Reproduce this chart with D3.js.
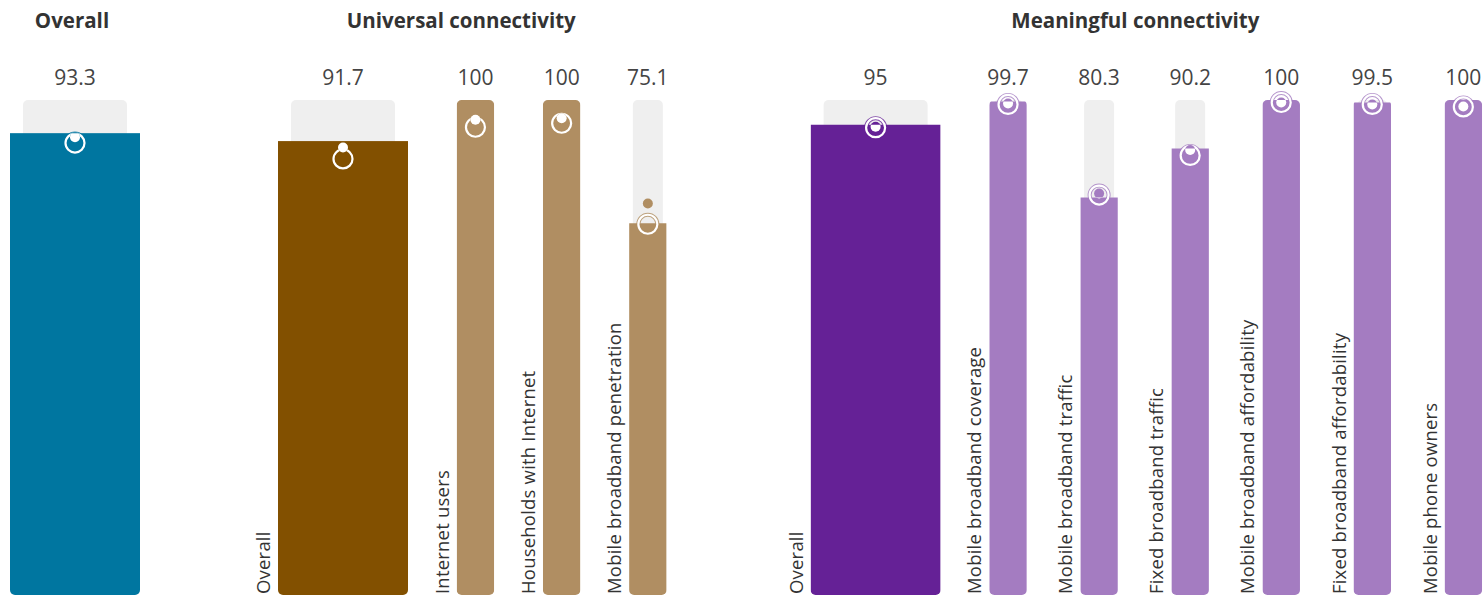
<!DOCTYPE html>
<html>
<head>
<meta charset="utf-8">
<script src="https://cdn.jsdelivr.net/npm/d3@7"></script>
<style>
  body { margin: 0; background: #fff; }
  text { font-family: 'Open Sans', 'Lato', sans-serif; }
</style>
</head>
<body>
<div id="chart"></div>
<script>
const width = 1483;
const height = 596;

// Overall index
const overallLabels = ['Overall'];
const overallValues = [93.3];
const overallDots = [92.5];
const overallRings = [91.3];

// Universal connectivity
const universalLabels = ['Overall', 'Internet users', 'Households with Internet', 'Mobile broadband penetration'];
const universalValues = [91.7, 100, 100, 75.1];
const universalDots = [90.4, 96.0, 96.3, 79.1];
const universalRings = [88.1, 94.5, 95.3, 74.9];

// Meaningful connectivity
const meaningfulLabels = ['Overall', 'Mobile broadband coverage', 'Mobile broadband traffic', 'Fixed broadband traffic',
  'Mobile broadband affordability', 'Fixed broadband affordability', 'Mobile phone owners'];
const meaningfulValues = [95, 99.7, 80.3, 90.2, 100, 99.5, 100];
const meaningfulDots = [94.6, 99.3, 81.1, 89.9, 99.5, 99.1, 98.7];
const meaningfulRings = [94.4, 99.1, 80.8, 88.8, 99.5, 99.1, 98.6];

const groups = [
  { title: 'Overall', labels: overallLabels, values: overallValues, dots: overallDots, rings: overallRings,
    colors: ['#0076a0'], left: 10, step: 0, showLabels: false },
  { title: 'Universal connectivity', labels: universalLabels, values: universalValues, dots: universalDots, rings: universalRings,
    colors: ['#825000', '#b08e62'], left: 278, step: 86.2, showLabels: true },
  { title: 'Meaningful connectivity', labels: meaningfulLabels, values: meaningfulValues, dots: meaningfulDots, rings: meaningfulRings,
    colors: ['#652196', '#a47cc1'], left: 810.6, step: 91.06, showLabels: true }
];

const wideW = 130, thinW = 37.5, gapAfterWide = 48.7;

const y = d3.scaleLinear().domain([0, 100]).range([595, 100]);

const svg = d3.select('#chart')
  .append('svg')
  .attr('width', width)
  .attr('height', height);

const defs = svg.append('defs');

groups.forEach((g, gi) => {
  const n = g.values.length;
  // position of thin bars
  const xThin = d3.scaleLinear()
    .domain([1, Math.max(2, n - 1)])
    .range([g.left + wideW + gapAfterWide, g.left + wideW + gapAfterWide + (Math.max(2, n - 1) - 1) * g.step]);

  const bars = g.values.map((v, i) => ({
    label: g.labels[i],
    value: v,
    dot: g.dots[i],
    ring: g.rings[i],
    x: i === 0 ? g.left : xThin(i),
    w: i === 0 ? wideW : thinW,
    color: i === 0 ? g.colors[0] : g.colors[1],
    id: `b${gi}-${i}`
  }));

  const layer = svg.append('g');

  // clip paths: rounded column shape, and the filled bar itself
  bars.forEach(d => {
    defs.append('clipPath').attr('id', `col-${d.id}`)
      .append('rect')
      .attr('x', d.x).attr('y', y(100))
      .attr('width', d.w).attr('height', y(0) - y(100))
      .attr('rx', 5);
    defs.append('clipPath').attr('id', `bar-${d.id}`)
      .append('rect')
      .attr('x', d.x).attr('y', y(d.value))
      .attr('width', d.w).attr('height', y(0) - y(d.value));
  });

  const bar = layer.selectAll('g.bar')
    .data(bars)
    .join('g')
    .attr('class', 'bar');

  // grey track
  bar.append('rect')
    .attr('x', d => d.x + d.w * 0.1)
    .attr('y', y(100))
    .attr('width', d => d.w * 0.8)
    .attr('height', y(0) - y(100))
    .attr('rx', 5)
    .attr('fill', '#efefef');

  // value bar
  bar.append('rect')
    .attr('clip-path', d => `url(#col-${d.id})`)
    .attr('x', d => d.x)
    .attr('y', d => y(d.value))
    .attr('width', d => d.w)
    .attr('height', d => y(0) - y(d.value))
    .attr('fill', d => d.color);

  // ring marker
  bar.append('circle')
    .attr('cx', d => d.x + d.w / 2)
    .attr('cy', d => y(d.ring))
    .attr('r', 9.5)
    .attr('fill', 'none')
    .attr('stroke', d => d.color)
    .attr('stroke-width', 4)
    .attr('stroke-opacity', 0.8);
  bar.append('circle')
    .attr('cx', d => d.x + d.w / 2)
    .attr('cy', d => y(d.ring))
    .attr('r', 9.5)
    .attr('fill', 'none')
    .attr('stroke', '#fff')
    .attr('stroke-width', 2.2);

  // dot marker: bar colour outside the bar, white inside it
  bar.append('circle')
    .attr('cx', d => d.x + d.w / 2)
    .attr('cy', d => y(d.dot))
    .attr('r', 5)
    .attr('fill', d => d.color);
  bar.append('circle')
    .attr('clip-path', d => `url(#bar-${d.id})`)
    .attr('cx', d => d.x + d.w / 2)
    .attr('cy', d => y(d.dot))
    .attr('r', 5)
    .attr('fill', '#fff');

  // value labels
  bar.append('text')
    .attr('x', d => d.x + d.w / 2)
    .attr('y', 85)
    .attr('text-anchor', 'middle')
    .style('font-size', '21px')
    .style('fill', '#444')
    .text(d => d.value);

  // rotated category labels
  if (g.showLabels) {
    bar.append('text')
      .attr('transform', d => `translate(${d.x - 8},594) rotate(-90)`)
      .attr('text-anchor', 'start')
      .style('font-size', '18.5px')
      .style('letter-spacing', '0.2px')
      .style('fill', '#333')
      .text(d => d.label);
  }

  // group title
  const last = bars[bars.length - 1];
  const tx = g.showLabels ? (bars[0].x - 22 + last.x + last.w) / 2 : bars[0].x + bars[0].w / 2 - 3;
  svg.append('text')
    .attr('x', tx)
    .attr('y', 28)
    .attr('text-anchor', 'middle')
    .style('font-size', '20.5px')
    .style('font-weight', 'bold')
    .style('fill', '#333')
    .text(g.title);
});
</script>
</body>
</html>
